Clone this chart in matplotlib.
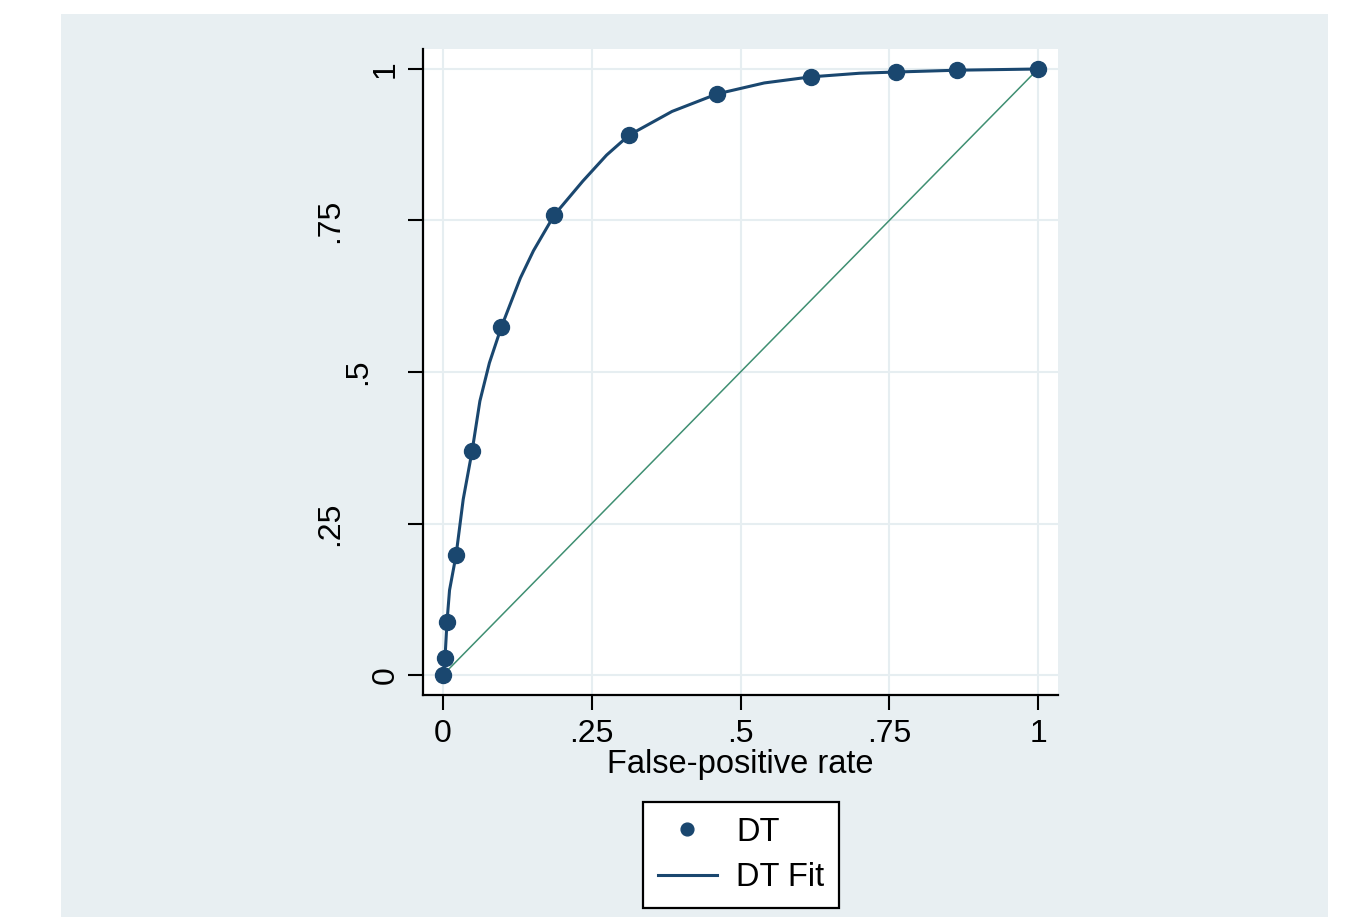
import matplotlib
matplotlib.use("Agg")
import matplotlib.pyplot as plt
import matplotlib.transforms as mtransforms
from matplotlib.patches import Rectangle

plt.rcParams['font.family'] = ['Liberation Sans', 'DejaVu Sans']

# observed ROC points (false-positive rate, true-positive rate)
fpr = [0, 0.003, 0.007, 0.022, 0.049, 0.098, 0.187, 0.313, 0.461, 0.618, 0.761, 0.864, 1.0]
tpr = [0, 0.028, 0.088, 0.198, 0.370, 0.574, 0.759, 0.891, 0.959, 0.987, 0.995, 0.998, 1.0]

# fitted curve
fit_x = [0, 0.0015, 0.0034, 0.0067, 0.011, 0.022, 0.034, 0.049, 0.062, 0.078, 0.098,
         0.13, 0.152, 0.187, 0.235, 0.275, 0.313, 0.385, 0.461, 0.54, 0.618,
         0.70, 0.761, 0.864, 1.0]
fit_y = [0, 0.012, 0.028, 0.0875, 0.14, 0.198, 0.29, 0.370, 0.452, 0.515, 0.574,
         0.655, 0.70, 0.759, 0.815, 0.858, 0.891, 0.93, 0.959, 0.977, 0.987,
         0.993, 0.995, 0.998, 1.0]

ref_x = [0, 1]
ref_y = [0, 1]

ticks = [0, 0.25, 0.5, 0.75, 1]
tick_labels = ['0', '.25', '.5', '.75', '1']

navy = '#1a476f'
bg = '#e8eff2'

fig = plt.figure(figsize=(13.46, 9.17), dpi=100)
fig.patch.set_facecolor('white')
fig.patches.append(Rectangle((61 / 1346, 0), (1328 - 61) / 1346, (917 - 14) / 917,
                             transform=fig.transFigure, facecolor=bg, edgecolor='none', zorder=-5))

ax = fig.add_axes([423 / 1346, (917 - 695) / 917, 635 / 1346, 646 / 917])
ax.set_facecolor('white')

ax.plot(ref_x, ref_y, color='#3f8f72', linewidth=1.1, zorder=2)
ax.plot(fit_x, fit_y, color=navy, linewidth=2.2, label='DT Fit', zorder=3)
ax.plot(fpr, tpr, linestyle='none', marker='o', markersize=11.5, color=navy, label='DT', zorder=4)

ax.set_xlim(-0.0336, 1.0336)
ax.set_ylim(-0.033, 1.033)
ax.set_xticks(ticks)
ax.set_xticklabels(tick_labels)
ax.set_yticks(ticks)
ax.set_yticklabels(tick_labels, rotation=90, va='center')
ax.tick_params(axis='both', direction='out', length=11, width=1.5, labelsize=23, color='black')
ax.tick_params(axis='y', pad=5)
ax.tick_params(axis='x', pad=6)

# y labels sit at staggered distances from the axis
shifts = {'.25': -56, '.5': -28, '.75': -56}
for lab in ax.get_yticklabels():
    dx = shifts.get(lab.get_text(), 0)
    if dx:
        lab.set_transform(lab.get_transform() + mtransforms.ScaledTranslation(dx / 100, 0, fig.dpi_scale_trans))

ax.grid(True, color='#e6eef1', linewidth=1.5)
ax.set_axisbelow(True)
for side in ['top', 'right']:
    ax.spines[side].set_visible(False)
for side in ['left', 'bottom']:
    ax.spines[side].set_linewidth(1.6)
    ax.spines[side].set_color('black')

ax.set_xlabel('False-positive rate', fontsize=23.5, labelpad=0)

handles, labels = ax.get_legend_handles_labels()
leg = fig.legend([handles[1], handles[0]], [labels[1], labels[0]],
                 loc='upper center', bbox_to_anchor=(741 / 1346, (917 - 802) / 917),
                 borderaxespad=0, fontsize=23.5, frameon=True, fancybox=False,
                 edgecolor='black', facecolor='white', framealpha=1,
                 handlelength=1.8, handletextpad=0.6, labelspacing=0.45,
                 borderpad=0.45, markerscale=0.8)
leg.get_frame().set_linewidth(1.6)

fig.savefig('out.png', dpi=100)
